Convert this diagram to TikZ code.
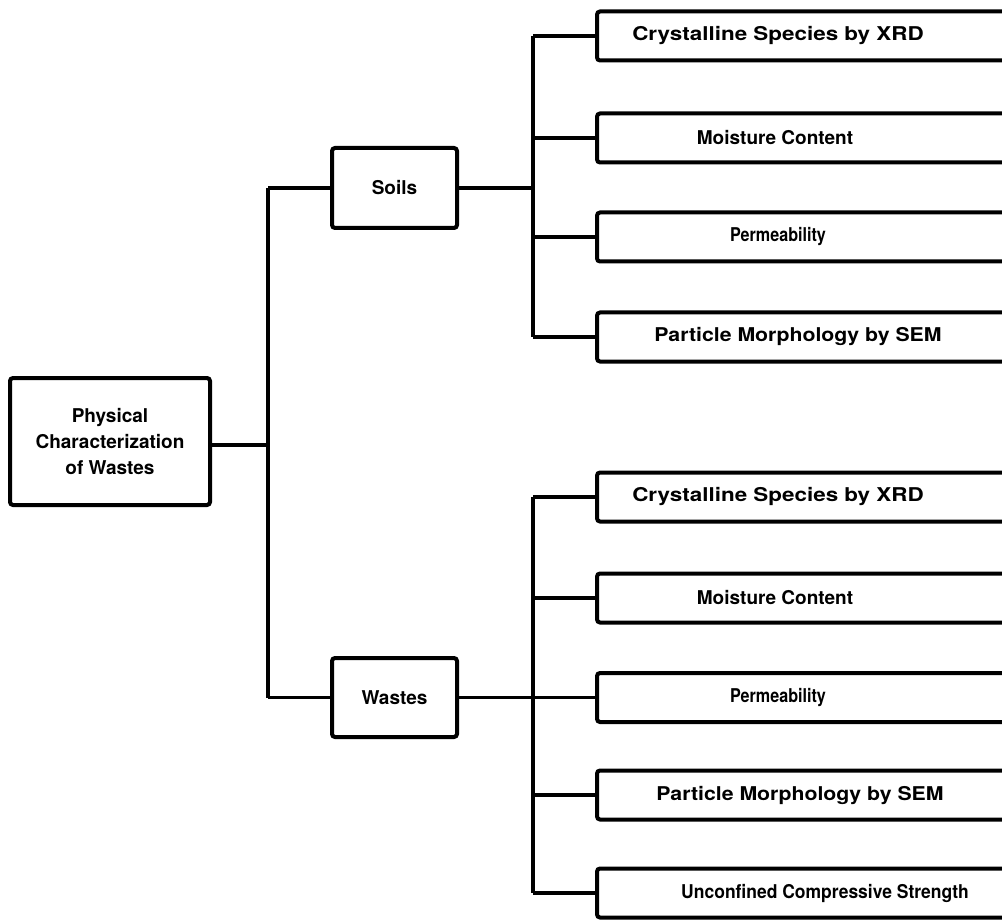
\documentclass[tikz,border=0pt]{standalone}
\usepackage{fontspec}
\setmainfont{TeX Gyre Heros}
\begin{document}
\begin{tikzpicture}[x=1pt,y=-1pt,
  every node/.style={font=\bfseries\fontsize{19}{26}\selectfont},
  boxnode/.style={draw,line width=4pt,rounded corners=3pt,inner sep=0pt},
  leafbox/.style={boxnode,anchor=west,minimum width=440pt,minimum height=49pt},
  txt/.style={inner sep=0pt},
  conn/.style={line width=3.2pt}]
\useasboundingbox (0,0) rectangle (1002,920);
\clip (0,0) rectangle (1002,920);
% root and middle boxes
\node[boxnode,minimum width=200pt,minimum height=127pt,align=center] (root) at (110,441.5)
  {Physical\\Characterization\\of Wastes};
\node[boxnode,minimum width=125pt,minimum height=80pt] (soils) at (394.5,188) {Soils};
\node[boxnode,minimum width=125pt,minimum height=79pt] (wastes) at (394.5,697.5) {Wastes};
% junction coordinates
\coordinate (j0) at (268,445);
\coordinate (j0s) at (268,188);
\coordinate (j0w) at (268,697.5);
% soils leaves
\node[leafbox] (s1) at (595,36) {};
\node[leafbox] (s2) at (595,138) {};
\node[leafbox] (s3) at (595,237) {};
\node[leafbox] (s4) at (595,337) {};
\node[txt,xscale=1.18] (s1t) at (778,36) {Crystalline Species by XRD};
\node[txt] (s2t) at (775,138) {Moisture Content};
\node[txt,xscale=0.85] (s3t) at (778,237) {Permeability};
\node[txt,xscale=1.12] (s4t) at (798,337) {Particle Morphology by SEM};
% wastes leaves
\node[leafbox] (w1) at (595,497) {};
\node[leafbox] (w2) at (595,598) {};
\node[leafbox] (w3) at (595,697.5) {};
\node[leafbox] (w4) at (595,795) {};
\node[leafbox] (w5) at (595,893) {};
\node[txt,xscale=1.18] (w1t) at (778,497) {Crystalline Species by XRD};
\node[txt] (w2t) at (775,598) {Moisture Content};
\node[txt,xscale=0.85] (w3t) at (778,697.5) {Permeability};
\node[txt,xscale=1.12] (w4t) at (800,795) {Particle Morphology by SEM};
\node[txt,xscale=0.92] (w5t) at (825,893) {Unconfined Compressive Strength};
% soils bus
\coordinate (bs1) at (533,36);
\coordinate (bs4) at (533,337);
\coordinate (bsm) at (533,188);
% wastes bus
\coordinate (bw1) at (533,497);
\coordinate (bw5) at (533,893);
\coordinate (bwm) at (533,697.5);
% connectors
\draw[conn] (root.east |- j0) -- (j0);
\draw[conn] (j0s) -- (j0w);
\draw[conn] (j0s) -- (soils.west);
\draw[conn] (j0w) -- (wastes.west);
\draw[conn] (soils.east) -- (bsm);
\draw[conn] (wastes.east) -- (bwm);
\draw[conn] (bs1) -- (bs4);
\draw[conn] (bw1) -- (bw5);
\foreach \n in {s1,s2,s3,s4,w1,w2,w3,w4,w5}
  \draw[conn] (533,0 |- \n.west) -- (\n.west);
\end{tikzpicture}
\end{document}
